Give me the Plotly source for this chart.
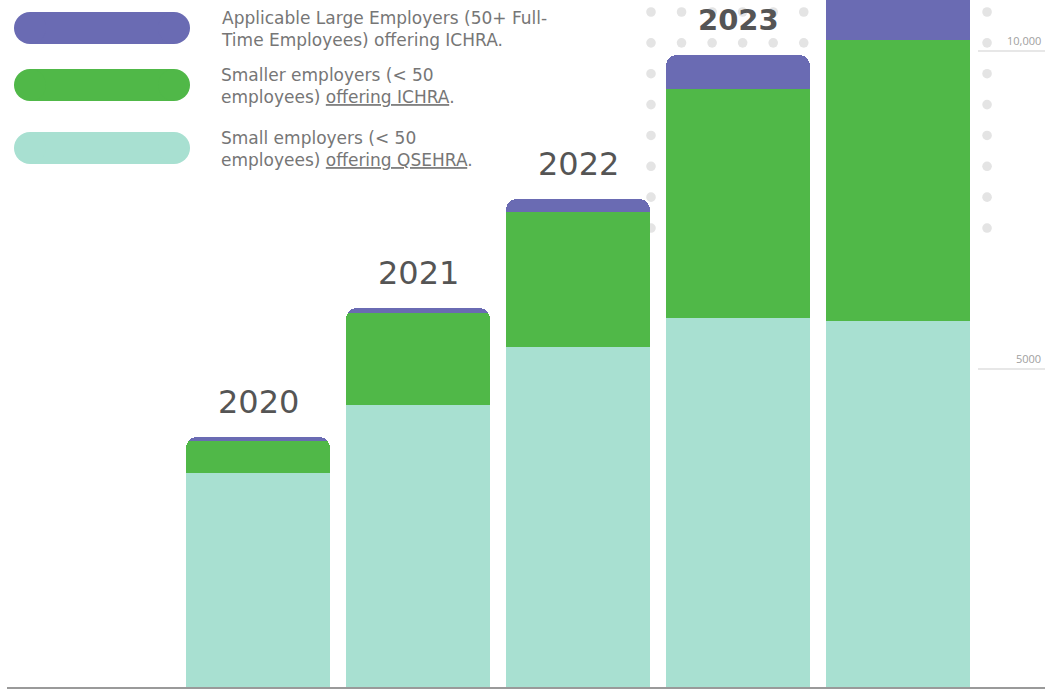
import numpy as np
import plotly.graph_objects as go

# ---- data ----
years = ["2020", "2021", "2022", "2023", "2024"]
qsehra_small = [3365, 4434, 5346, 5802, 5755]
ichra_small = [503, 1446, 2122, 3601, 4418]
ichra_large = [63, 79, 205, 534, 1250]

series_names = [
    "Small employers (< 50 employees) offering QSEHRA.",
    "Smaller employers (< 50 employees) offering ICHRA.",
    "Applicable Large Employers (50+ Full-Time Employees) offering ICHRA.",
]
legend_lines = [
    "Applicable Large Employers (50+ Full-<br>Time Employees) offering ICHRA.",
    "Smaller employers (< 50<br>employees) <span style='text-decoration:underline'>offering ICHRA</span>.",
    "Small employers (< 50<br>employees) <span style='text-decoration:underline'>offering QSEHRA</span>.",
]
tick_values = [5000, 10000]
tick_labels = ["5000", "10,000"]

C_PURPLE = "#6A6BB3"
C_GREEN = "#50B848"
C_TEAL = "#A8E0D1"
colors = [C_TEAL, C_GREEN, C_PURPLE]

W, H = 1045, 689
ML, MR, MT, MB = 7, 0, 0, 2
PW, PH = W - ML - MR, H - MT - MB


def px2x(px):
    return (px - ML) / PW


def px2y(py):
    return 1 - (py - MT) / PH


fig = go.Figure()
for vals, name, col in zip([qsehra_small, ichra_small, ichra_large], series_names, colors):
    fig.add_trace(go.Bar(x=years, y=vals, name=name, marker=dict(color=col, line=dict(width=0)),
                         width=0.9, showlegend=False))

totals = [a + b + c for a, b, c in zip(qsehra_small, ichra_small, ichra_large)]

shapes = []
# decorative dot grid (background)
for cy in 12 + 30.86 * np.arange(8):
    for cx in 651 + 30.55 * np.arange(12):
        r = 4.8
        shapes.append(dict(type="circle", xref="paper", yref="paper", layer="below",
                           x0=px2x(cx - r), x1=px2x(cx + r), y0=px2y(cy + r), y1=px2y(cy - r),
                           fillcolor="#E4E4E4", line=dict(width=0)))

# right-side short gridlines + labels
annotations = []
for tv, tl in zip(tick_values, tick_labels):
    shapes.append(dict(type="line", xref="paper", yref="y", x0=px2x(978), x1=1, y0=tv, y1=tv,
                       line=dict(color="#CFCFCF", width=1.2), layer="below"))
    annotations.append(dict(xref="paper", yref="y", x=px2x(1043), y=tv, text=tl, showarrow=False,
                            xanchor="right", yanchor="bottom", yshift=1,
                            font=dict(family="Open Sans", size=11, color="#A0A0A0")))

# legend pills
pill_cy = [28, 85, 148]
pill_cols = [C_PURPLE, C_GREEN, C_TEAL]
for cy, col, txt in zip(pill_cy, pill_cols, legend_lines):
    h = 32
    r = h / 2
    x0p, x1p = 14, 190
    shapes.append(dict(type="rect", xref="paper", yref="paper", x0=px2x(x0p + r), x1=px2x(x1p - r),
                       y0=px2y(cy + r), y1=px2y(cy - r), fillcolor=col, line=dict(width=0)))
    for ccx in (x0p + r, x1p - r):
        shapes.append(dict(type="circle", xref="paper", yref="paper", x0=px2x(ccx - r), x1=px2x(ccx + r),
                           y0=px2y(cy + r), y1=px2y(cy - r), fillcolor=col, line=dict(width=0)))
    annotations.append(dict(xref="paper", yref="paper", x=px2x(219), y=px2y(cy + 1), text=txt,
                            showarrow=False, xanchor="left", yanchor="middle", align="left",
                            font=dict(family="DejaVu Sans", size=17, color="#767676")))

# year labels above bars
for i, (yr, tot) in enumerate(zip(years, totals)):
    bold = yr == "2023"
    txt = f"<b>{yr}</b>" if bold else yr
    annotations.append(dict(xref="x", yref="y", x=i, y=tot, text=txt, showarrow=False, yshift=35,
                            yanchor="middle",
                            font=dict(family="DejaVu Sans", size=29 if bold else 32,
                                      color="#555555")))

fig.update_layout(
    width=W, height=H,
    margin=dict(l=ML, r=MR, t=MT, b=MB, pad=0),
    barmode="stack", barcornerradius=11,
    plot_bgcolor="white", paper_bgcolor="white",
    xaxis=dict(type="category", range=[-1.56875, 4.91875], showticklabels=False, showgrid=False,
               zeroline=False, showline=True, linecolor="#9A9A9A", linewidth=2, ticks=""),
    yaxis=dict(range=[0, 10802], showticklabels=False, showgrid=False, zeroline=False, showline=False),
    shapes=shapes, annotations=annotations,
)

fig.write_html("out.html", config={"displayModeBar": False},
               post_script="document.body.style.margin='0';document.body.style.overflow='hidden';")
